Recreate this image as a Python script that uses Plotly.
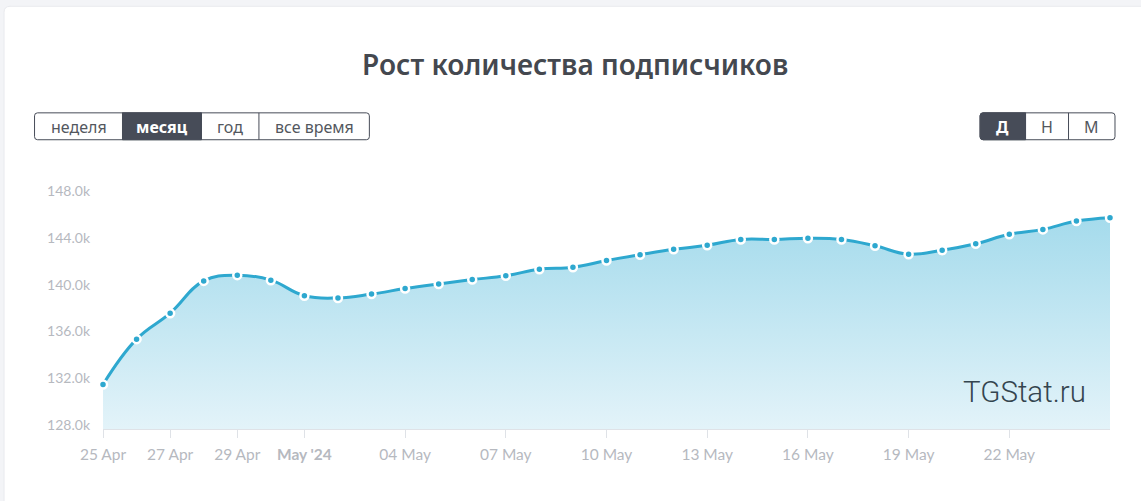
import plotly.graph_objects as go

# daily subscriber counts
DATES = [
    "2024-04-25", "2024-04-26", "2024-04-27", "2024-04-28", "2024-04-29", "2024-04-30",
    "2024-05-01", "2024-05-02", "2024-05-03", "2024-05-04", "2024-05-05", "2024-05-06",
    "2024-05-07", "2024-05-08", "2024-05-09", "2024-05-10", "2024-05-11", "2024-05-12",
    "2024-05-13", "2024-05-14", "2024-05-15", "2024-05-16", "2024-05-17", "2024-05-18",
    "2024-05-19", "2024-05-20", "2024-05-21", "2024-05-22", "2024-05-23", "2024-05-24",
    "2024-05-25",
]
SUBSCRIBERS = [
    131800, 135680, 137900, 140660, 141150, 140720, 139390, 139200, 139530, 140000, 140400,
    140770, 141100, 141660, 141830, 142400, 142900, 143360, 143700, 144200, 144200, 144300,
    144200, 143660, 142940, 143280, 143830, 144640, 145060, 145770, 146060,
]
X_TICKS = [
    "2024-04-25", "2024-04-27", "2024-04-29", "2024-05-01", "2024-05-04", "2024-05-07",
    "2024-05-10", "2024-05-13", "2024-05-16", "2024-05-19", "2024-05-22",
]
X_LABELS = [
    "25 Apr", "27 Apr", "29 Apr", "<b>May '24</b>", "04 May", "07 May",
    "10 May", "13 May", "16 May", "19 May", "22 May",
]
Y_TICKS = [128000, 132000, 136000, 140000, 144000, 148000]
Y_LABELS = ["128.0k", "132.0k", "136.0k", "140.0k", "144.0k", "148.0k"]
TITLE = "Рост количества подписчиков"
PERIOD_BUTTONS = ["неделя", "месяц", "год", "все время"]
STEP_BUTTONS = ["Д", "Н", "М"]

WIDTH, HEIGHT = 1141, 501
LEFT, RIGHT, TOP, BOTTOM = 103, 1110.5, 194.5, 429.5
DARK = "#474c58"
TEXT = "#53575e"
BLUE = "#2ea8cf"
FONT = "Noto Sans"


def px(x):
    return (x - LEFT) / (RIGHT - LEFT)


def py(y):
    return (BOTTOM - y) / (BOTTOM - TOP)


def rounded(x0, y0, x1, y1, r, left=True, right=True):
    a, b, c, d = px(x0), px(x1), py(y0), py(y1)
    rx, ry = r / (RIGHT - LEFT), r / (BOTTOM - TOP)
    path = f"M {a + (rx if left else 0)} {c} L {b - (rx if right else 0)} {c} "
    path += f"Q {b} {c} {b} {c - ry} L {b} {d + ry} Q {b} {d} {b - rx} {d} " if right else f"L {b} {d} "
    path += f"L {a + (rx if left else 0)} {d} "
    path += f"Q {a} {d} {a} {d + ry} L {a} {c - ry} Q {a} {c} {a + rx} {c} Z" if left else f"L {a} {c} Z"
    return path


def button_group(labels, edges, active, y0=112, y1=139):
    shapes, notes = [], []
    shapes.append(dict(type="path", path=rounded(edges[0], y0, edges[-1], y1, 3), xref="paper", yref="paper",
                       fillcolor="white", line=dict(color=DARK, width=1), layer="above"))
    for i, label in enumerate(labels):
        if i == active:
            shapes.append(dict(type="path", path=rounded(edges[i], y0, edges[i + 1], y1, 3, left=i == 0, right=False),
                               xref="paper", yref="paper", fillcolor=DARK, line=dict(color=DARK, width=1), layer="above"))
        if i > 0:
            shapes.append(dict(type="line", x0=px(edges[i]), x1=px(edges[i]), y0=py(y0), y1=py(y1), xref="paper", yref="paper",
                               line=dict(color=DARK, width=1), layer="above"))
        notes.append(dict(text=f"<b>{label}</b>" if i == active else label, x=px((edges[i] + edges[i + 1]) / 2), y=py(126),
                          xref="paper", yref="paper", showarrow=False, xanchor="center", yanchor="middle",
                          font=dict(family=FONT, size=16, color="white" if i == active else TEXT)))
    return shapes, notes


fig = go.Figure()
fig.add_trace(go.Scatter(
    x=DATES, y=SUBSCRIBERS, mode="lines+markers", cliponaxis=False,
    line=dict(color=BLUE, width=3, shape="spline", smoothing=1.2),
    marker=dict(color=BLUE, size=8, line=dict(color="white", width=2.5)),
    fill="tozeroy",
    fillgradient=dict(type="vertical", start=128000, stop=146000,
                      colorscale=[[0, "#e3f3f9"], [1, "#a5dbec"]]),
    showlegend=False, hoverinfo="x+y",
))

shapes1, notes1 = button_group(PERIOD_BUTTONS, [34.5, 122.5, 201.5, 259, 369.5], 1)
shapes2, notes2 = button_group(STEP_BUTTONS, [980.5, 1026, 1069, 1115.5], 0)

card = dict(type="path", path=rounded(4, 5, 1160, 520, 6), xref="paper", yref="paper",
            fillcolor="white", line=dict(color="#e9eaee", width=1), layer="below")

notes = notes1 + notes2
notes.append(dict(text=TITLE, x=px(575), y=py(63), xref="paper", yref="paper", showarrow=False,
                  xanchor="center", yanchor="middle", font=dict(family=FONT, size=28, color="#44484f", weight=600)))
notes.append(dict(text="TGStat.ru", x=px(1088), y=py(392), xref="paper", yref="paper", showarrow=False,
                  xanchor="right", yanchor="middle", font=dict(family="Roboto", size=29.5, color="#34454f", weight=300)))

fig.update_layout(
    width=WIDTH, height=HEIGHT, autosize=False,
    margin=dict(l=LEFT, r=WIDTH - RIGHT, t=TOP, b=HEIGHT - BOTTOM, pad=0),
    paper_bgcolor="#f3f4f7", plot_bgcolor="rgba(0,0,0,0)",
    shapes=[card] + shapes1 + shapes2,
    annotations=notes,
    font=dict(family="Lato", size=15.5, color="#b6b9bf"),
)
fig.update_xaxes(
    range=[DATES[0], DATES[-1]], tickmode="array", tickvals=X_TICKS, ticktext=X_LABELS,
    showgrid=False, zeroline=False, showline=True, linecolor="#dfe2e7", linewidth=1,
    ticks="outside", ticklen=8, tickcolor="#dfe2e7", tickwidth=1, ticklabelstandoff=3,
)
fig.update_yaxes(
    range=[128000, 148000], tickmode="array", tickvals=Y_TICKS, ticktext=Y_LABELS,
    showgrid=False, zeroline=False, showline=False, ticks="", ticklabelstandoff=12, ticklabelshift=-4,
    tickfont=dict(size=14),
)

# the page's default body margin would push everything 8px off
fig.write_html("out.html", config={"displayModeBar": False}, post_script="document.body.style.margin = '0';")
